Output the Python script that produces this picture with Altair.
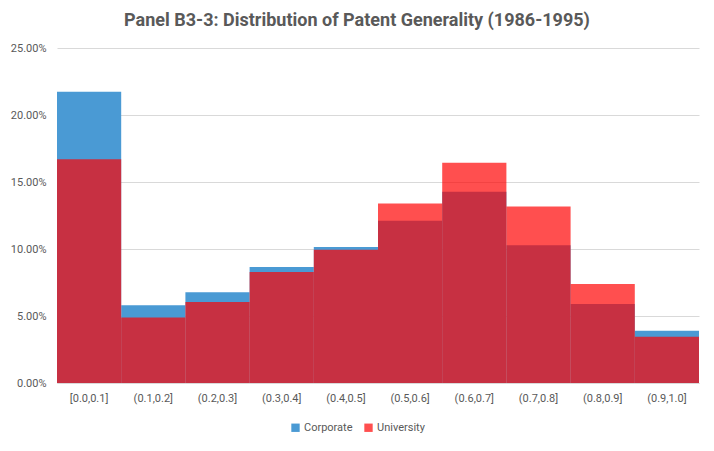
import altair as alt
import pandas as pd

bins = ["[0.0,0.1]", "(0.1,0.2]", "(0.2,0.3]", "(0.3,0.4]", "(0.4,0.5]",
        "(0.5,0.6]", "(0.6,0.7]", "(0.7,0.8]", "(0.8,0.9]", "(0.9,1.0]"]
corporate = [21.73, 5.80, 6.78, 8.65, 10.15, 12.10, 14.28, 10.28, 5.90, 3.90]
university = [16.70, 4.88, 6.05, 8.28, 9.95, 13.40, 16.43, 13.18, 7.38, 3.45]
series = ["Corporate", "University"]
y_ticks = [0, 0.05, 0.10, 0.15, 0.20, 0.25]

rows = []
for i, b in enumerate(bins):
    rows.append({"bin": b, "series": "Corporate", "value": corporate[i] / 100, "ord": 0})
for i, b in enumerate(bins):
    rows.append({"bin": b, "series": "University", "value": university[i] / 100, "ord": 1})
df = pd.DataFrame(rows)

FONT = "Liberation Sans Narrow, Roboto, Arial, sans-serif"
GREY = "#595959"

chart = alt.Chart(df).mark_bar().encode(
    x=alt.X("bin:N", sort=bins,
            scale=alt.Scale(paddingInner=0, paddingOuter=0),
            axis=alt.Axis(title=None, labelAngle=0, ticks=False, domainColor="#d9d9d9",
                          labelColor=GREY, labelFont=FONT, labelFontSize=11, labelPadding=9)),
    y=alt.Y("value:Q", stack=None,
            scale=alt.Scale(domain=[0, 0.25], nice=False),
            axis=alt.Axis(format=".2%", values=y_ticks, title=None, domain=False, ticks=False,
                          gridColor="#d9d9d9", labelColor=GREY, labelFont=FONT,
                          labelFontSize=11, labelPadding=11)),
    color=alt.Color("series:N",
                    scale=alt.Scale(domain=series, range=["#4A9AD4", "rgba(255,0,0,0.69)"]),
                    legend=alt.Legend(title=None, orient="none", legendX=233, legendY=374,
                                      direction="horizontal", symbolType="square",
                                      symbolSize=70, symbolStrokeWidth=0,
                                      labelFont=FONT, labelFontSize=11, labelColor=GREY,
                                      columnPadding=10, labelOffset=3)),
    order=alt.Order("ord:Q"),
).properties(
    width=642, height=335,
    padding={"left": 49, "top": 40, "right": 5, "bottom": 50},
    autosize=alt.AutoSizeParams(type="none"),
    title=alt.TitleParams("Panel B3-3: Distribution of Patent Generality (1986-1995)",
                          anchor="middle", fontSize=18, font=FONT, fontWeight="bold",
                          color=GREY, dx=-21, offset=12),
).configure_view(stroke=None)

chart.save("out.html", embed_options={"renderer": "svg", "actions": False})
